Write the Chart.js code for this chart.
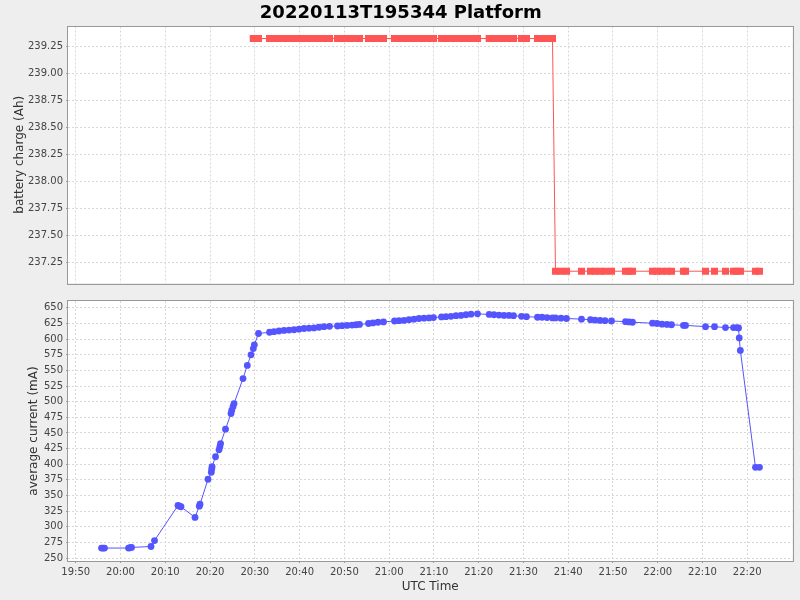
<!DOCTYPE html>
<html><head><meta charset="utf-8">
<script src="https://cdn.jsdelivr.net/npm/chart.js@4.4.1/dist/chart.umd.min.js"></script>
<style>
html,body{margin:0;padding:0;background:#eeeeee;overflow:hidden;}
#c1{position:absolute;left:0;top:0;}
#c2{position:absolute;left:0;top:292px;}
</style></head><body>
<canvas id="c1" width="800" height="292" style="width:800px;height:292px"></canvas>
<canvas id="c2" width="800" height="308" style="width:800px;height:308px"></canvas>
<script>
// ---- data (times are minutes after 00:00 UTC) ----
const chartTitle = '20220113T195344 Platform';
const xTickLabels = ['19:50','20:00','20:10','20:20','20:30','20:40','20:50','21:00','21:10','21:20','21:30','21:40','21:50','22:00','22:10','22:20'];
const chargeTicks = [237.25, 237.50, 237.75, 238.00, 238.25, 238.50, 238.75, 239.00, 239.25];
const currentTicks = [250, 275, 300, 325, 350, 375, 400, 425, 450, 475, 500, 525, 550, 575, 600, 625, 650];

const chargeTimes = [
  1229.66, 1229.89, 1230.82,
  1233.28, 1234.29, 1235.40, 1236.52, 1237.64, 1238.75, 1239.87, 1240.99, 1242.10, 1243.22, 1244.34, 1245.45, 1246.68,
  1248.47, 1249.47, 1250.59, 1251.71, 1252.60, 1253.38,
  1255.39, 1256.40, 1257.52, 1258.74,
  1261.20, 1262.21, 1263.32, 1264.44, 1265.56, 1266.67, 1267.79, 1268.91, 1269.91,
  1271.70, 1272.70, 1273.82, 1274.94, 1276.06, 1277.17, 1278.29, 1279.74,
  1282.35, 1283.42, 1284.54, 1285.66, 1286.77, 1287.78,
  1289.57, 1290.68,
  1293.14, 1294.15, 1295.26, 1296.49,
  1297.16, 1298.39, 1299.62,
  1302.97,
  1304.98, 1305.99, 1307.10, 1308.22, 1309.67,
  1312.80, 1313.58, 1314.36,
  1318.83, 1319.83, 1320.95, 1322.07, 1323.07,
  1325.75, 1326.20,
  1330.67,
  1332.68,
  1335.13,
  1336.92, 1337.70, 1338.48,
  1341.83, 1342.72
];
const chargeValues = [
  239.32, 239.32, 239.32,
  239.32, 239.32, 239.32, 239.32, 239.32, 239.32, 239.32, 239.32, 239.32, 239.32, 239.32, 239.32, 239.32,
  239.32, 239.32, 239.32, 239.32, 239.32, 239.32,
  239.32, 239.32, 239.32, 239.32,
  239.32, 239.32, 239.32, 239.32, 239.32, 239.32, 239.32, 239.32, 239.32,
  239.32, 239.32, 239.32, 239.32, 239.32, 239.32, 239.32, 239.32,
  239.32, 239.32, 239.32, 239.32, 239.32, 239.32,
  239.32, 239.32,
  239.32, 239.32, 239.32, 239.32,
  237.17, 237.17, 237.17,
  237.17,
  237.17, 237.17, 237.17, 237.17, 237.17,
  237.17, 237.17, 237.17,
  237.17, 237.17, 237.17, 237.17, 237.17,
  237.17, 237.17,
  237.17,
  237.17,
  237.17,
  237.17, 237.17, 237.17,
  237.17, 237.17
];

const currentTimes = [
  1195.76, 1196.09, 1196.43, 1201.79, 1202.12, 1202.46, 1206.81, 1207.59,
  1212.84, 1213.18, 1213.51, 1216.64, 1217.60, 1217.76, 1219.54,
  1220.28, 1220.37, 1220.45, 1221.22, 1222.00, 1222.20, 1222.35, 1223.45,
  1224.68, 1224.84, 1225.13, 1225.35, 1227.36, 1228.32, 1229.15, 1229.66, 1229.89, 1230.82,
  1233.28, 1234.29, 1235.40, 1236.52, 1237.64, 1238.75, 1239.87, 1240.99, 1242.10, 1243.22,
  1244.34, 1245.45, 1246.68, 1248.47, 1249.47, 1250.59, 1251.71, 1252.60, 1253.38,
  1255.39, 1256.40, 1257.52, 1258.74, 1261.20, 1262.21, 1263.32, 1264.44, 1265.56,
  1266.67, 1267.79, 1268.91, 1269.91, 1271.70, 1272.70, 1273.82, 1274.94, 1276.06,
  1277.17, 1278.29, 1279.74, 1282.35, 1283.42, 1284.54, 1285.66, 1286.77, 1287.78,
  1289.57, 1290.68, 1293.14, 1294.15, 1295.26, 1296.49, 1297.16, 1298.39, 1299.62,
  1302.97, 1304.98, 1305.99, 1307.10, 1308.22, 1309.67, 1312.80, 1313.58, 1314.36,
  1318.83, 1319.83, 1320.95, 1322.07, 1323.07, 1325.75, 1326.20, 1330.67, 1332.68,
  1335.13, 1336.92, 1337.70, 1338.05, 1338.20, 1338.45, 1341.83, 1342.72
];
const currentValues = [
  266, 266, 266, 266, 266.5, 267, 268.5, 278,
  334, 333, 332, 315, 333, 336, 376,
  387, 392, 396, 412, 423, 428, 433, 456,
  481, 486, 492, 497, 537, 558, 575, 585, 591, 609,
  611, 612, 613, 614, 614.5, 615, 616, 617, 617.5, 618,
  619, 620, 620.5, 621, 621.5, 622, 622.5, 623, 623.5,
  625, 626, 627, 627.5, 629, 629.5, 630, 631, 632,
  633, 633.5, 634, 634.5, 635.5, 636, 636.5, 637.5, 638,
  639, 640, 640.5, 639.5, 639, 638.5, 638, 638, 637.5,
  636.5, 636, 635, 635, 634.5, 634, 634, 633.5, 633,
  632, 631, 630.5, 630, 629.5, 629, 628, 627.5, 627,
  625.5, 625, 624, 623.5, 623, 622, 622, 620, 620,
  618.5, 618.5, 618.5, 618, 602, 582, 395, 395
];

// ---- rendering ----
const xTickValues = xTickLabels.map(s => { const p = s.split(':'); return (+p[0]) * 60 + (+p[1]); });
const X_MIN = 1188.27, X_MAX = 1350.1;
const FONT = 'DejaVu Sans';
const GRID = '#d8d8d8';
const TICKC = '#444444';
const LABELC = '#333333';

const plotFrame = {
  id: 'plotFrame',
  beforeDraw(chart) {
    const {ctx, chartArea: a} = chart;
    ctx.save();
    ctx.fillStyle = '#ffffff';
    ctx.fillRect(a.left, a.top, a.right - a.left, a.bottom - a.top);
    ctx.restore();
  },
  afterDraw(chart) {
    const {ctx, chartArea: a} = chart;
    ctx.save();
    ctx.strokeStyle = '#999999';
    ctx.lineWidth = 1;
    ctx.strokeRect(Math.round(a.left) - 0.5, Math.round(a.top) - 0.5, Math.round(a.right - a.left) + 1, Math.round(a.bottom - a.top) + 1);
    ctx.restore();
  }
};

function gridOpts(drawTicks) {
  return { color: GRID, lineWidth: 1, drawTicks: drawTicks, tickLength: 2, tickColor: '#999999', tickBorderDash: [], tickWidth: 1 };
}
const borderOpts = { display: false, dash: [2, 2] };

new Chart(document.getElementById('c1'), {
  type: 'line',
  data: {
    datasets: [{
      data: chargeTimes.map((t, i) => ({x: t, y: chargeValues[i]})),
      borderColor: '#ff5555', backgroundColor: '#ff5555', borderWidth: 1,
      pointStyle: 'rect', pointRadius: 5, pointBorderWidth: 0, pointBackgroundColor: '#ff5555',
      tension: 0, fill: false
    }]
  },
  options: {
    responsive: false, animation: false, devicePixelRatio: 1,
    layout: { padding: { left: 9, right: 7.5, top: 0, bottom: 4 } },
    plugins: {
      legend: { display: false }, tooltip: { enabled: false },
      title: { display: true, text: chartTitle, color: '#000000',
        font: { family: FONT, size: 18, weight: 'bold' }, padding: { top: 3, bottom: 1.9 } }
    },
    scales: {
      x: {
        type: 'linear', min: X_MIN, max: X_MAX,
        afterBuildTicks: s => { s.ticks = xTickValues.map(v => ({value: v})); },
        afterFit: s => { s.height = 0; },
        ticks: { display: false },
        grid: gridOpts(false), border: borderOpts
      },
      y: {
        type: 'linear', min: 237.061, max: 239.431,
        afterBuildTicks: s => { s.ticks = chargeTicks.map(v => ({value: v})); },
        afterFit: s => { s.width = 59; },
        ticks: { color: TICKC, padding: 3, font: { family: FONT, size: 10 }, callback: v => Number(v).toFixed(2) },
        title: { display: true, text: 'battery charge (Ah)', color: LABELC, font: { family: FONT, size: 12 }, padding: { top: 4, bottom: 4 } },
        grid: gridOpts(true), border: borderOpts
      }
    }
  },
  plugins: [plotFrame]
});

new Chart(document.getElementById('c2'), {
  type: 'line',
  data: {
    datasets: [{
      data: currentTimes.map((t, i) => ({x: t, y: currentValues[i]})),
      borderColor: '#5555ff', backgroundColor: '#5555ff', borderWidth: 1,
      pointStyle: 'circle', pointRadius: 3.4, pointBorderWidth: 0, pointBackgroundColor: '#5555ff',
      tension: 0, fill: false
    }]
  },
  options: {
    responsive: false, animation: false, devicePixelRatio: 1,
    layout: { padding: { left: 23, right: 7.5, top: 5, bottom: 2 } },
    plugins: { legend: { display: false }, tooltip: { enabled: false }, title: { display: false } },
    scales: {
      x: {
        type: 'linear', min: X_MIN, max: X_MAX,
        afterBuildTicks: s => { s.ticks = xTickValues.map(v => ({value: v})); },
        afterFit: s => { s.height = 37; },
        ticks: { color: TICKC, padding: 3, autoSkip: false, maxRotation: 0, font: { family: FONT, size: 10 },
          callback: (v, i) => xTickLabels[i] },
        title: { display: true, text: 'UTC Time', color: LABELC, font: { family: FONT, size: 12 }, padding: { top: 4, bottom: 4 } },
        grid: gridOpts(true), border: borderOpts
      },
      y: {
        type: 'linear', min: 245.3, max: 661,
        afterBuildTicks: s => { s.ticks = currentTicks.map(v => ({value: v})); },
        afterFit: s => { s.width = 45; },
        ticks: { color: TICKC, padding: 3, font: { family: FONT, size: 10 }, callback: v => String(v) },
        title: { display: true, text: 'average current (mA)', color: LABELC, font: { family: FONT, size: 12 }, padding: { top: 4, bottom: 4 } },
        grid: gridOpts(true), border: borderOpts
      }
    }
  },
  plugins: [plotFrame]
});
</script>
</body></html>
